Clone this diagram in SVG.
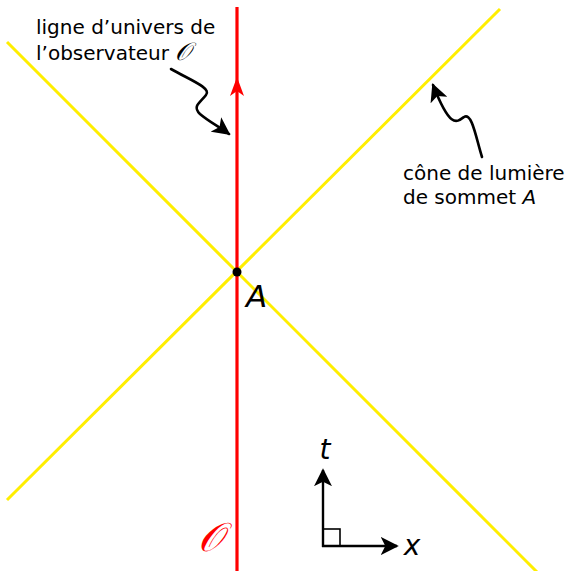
<svg xmlns="http://www.w3.org/2000/svg" width="571" height="571" viewBox="0 0 571 571">
<defs>
<style>
.lbl{font-family:"DejaVu Sans","Liberation Sans",sans-serif;font-size:20px;fill:#000}
.it{font-family:"DejaVu Sans","Liberation Sans",sans-serif;font-style:italic;fill:#000}
.script{font-family:"DejaVu Serif","Noto Sans","DejaVu Sans",serif}
.cone{stroke:#ffee00;stroke-width:3;fill:none}
.wl{stroke:#ff0000;stroke-width:3.2;fill:none}
.ptr{stroke:#000;stroke-width:2.6;fill:none;stroke-linecap:round}
.ax{stroke:#000;stroke-width:2.4;fill:none}
</style>
<marker id="ahb" viewBox="0 0 10 10" refX="9" refY="5" markerWidth="18" markerHeight="18" markerUnits="userSpaceOnUse" orient="auto">
<path d="M0,0 L10,5 L0,10 L2.5,5 Z" fill="#000"/>
</marker>
</defs>
<g id="cone">
<line class="cone" x1="7" y1="42" x2="537" y2="572"/>
<line class="cone" x1="7" y1="500" x2="500" y2="9"/>
</g>
<g id="worldline">
<line class="wl" x1="237" y1="7" x2="237" y2="571"/>
<path d="M237,77 L244,96 L237,91 L230,96 Z" fill="#ff0000"/>
<text x="210" y="551" class="script" font-size="40" font-style="italic" fill="#ff0000" text-anchor="middle">𝒪</text>
</g>
<g id="pointA">
<circle cx="237" cy="272" r="4.5" fill="#000"/>
<text x="246" y="307" class="it" font-size="31">A</text>
</g>
<g id="label-worldline">
<text class="lbl" x="36" y="34">ligne d’univers de</text>
<text class="lbl" x="36" y="60">l’observateur <tspan class="script" font-style="italic" font-size="25">𝒪</tspan></text>
</g>
<g id="label-cone">
<text class="lbl" x="403" y="180">cône de lumière</text>
<text class="lbl" x="403" y="204">de sommet <tspan font-style="italic">A</tspan></text>
</g>
<g id="axes">
<line class="ax" x1="323" y1="547" x2="323" y2="470" marker-end="url(#ahb)"/>
<line class="ax" x1="322" y1="546" x2="397" y2="546" marker-end="url(#ahb)"/>
<rect x="323" y="529" width="17" height="17" fill="none" stroke="#000" stroke-width="1.6"/>
<text x="325" y="459" class="it" font-size="28" text-anchor="middle">t</text>
<text x="412" y="555" class="it" font-size="28" text-anchor="middle">x</text>
</g>
<g id="connectors">
<path class="ptr" d="M171,69 C190,80 212,88 206,95 C200,103 192,106 200,114 C208,121 218,126 229,134" marker-end="url(#ahb)"/>
<path class="ptr" d="M482,157 C476,138 472,112 464,117 C456,123 450,128 433,85" marker-end="url(#ahb)"/>
</g>
</svg>
